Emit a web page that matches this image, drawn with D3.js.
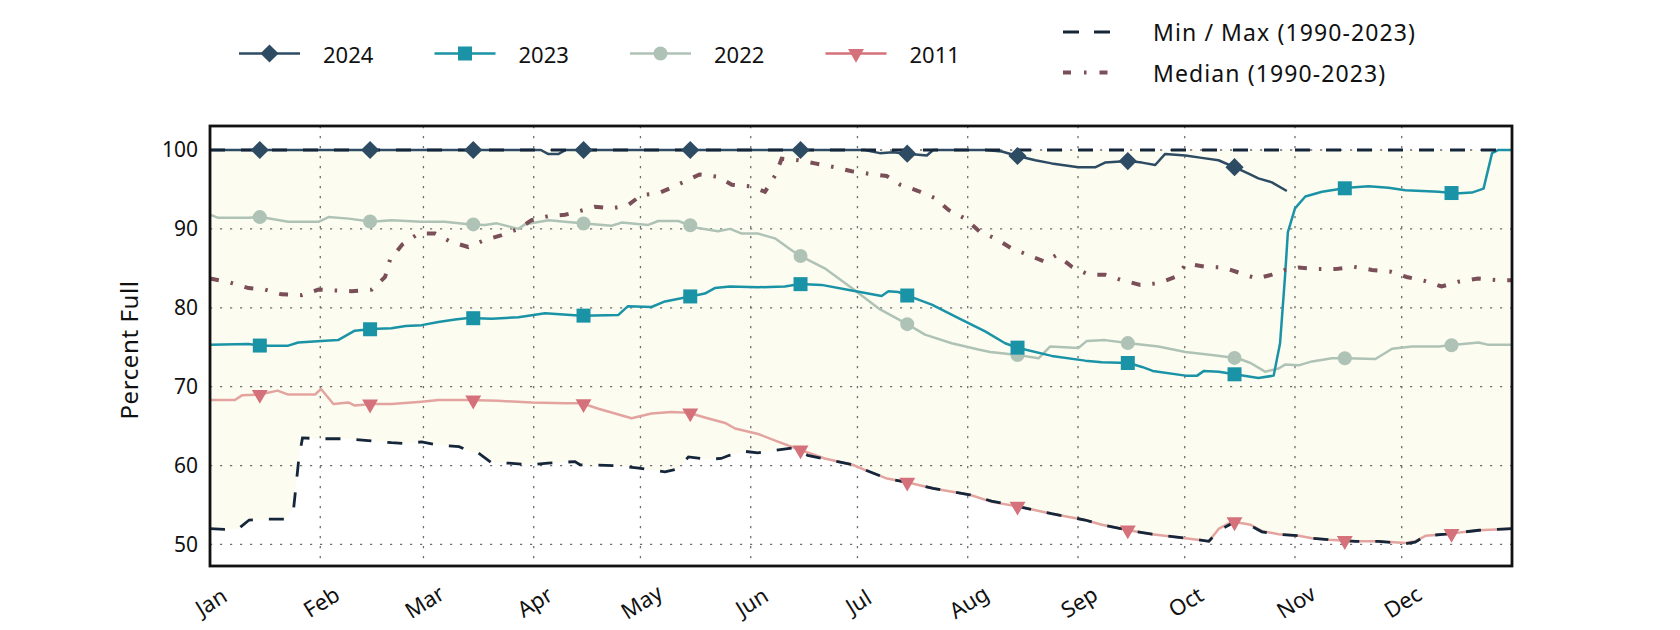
<!DOCTYPE html>
<html>
<head>
<meta charset="utf-8">
<script src="https://cdn.jsdelivr.net/npm/d3@7"></script>
<style>
  body { margin: 0; background: #fff; }
  svg { display: block; }
  text { font-family: "Noto Sans", sans-serif; fill: #111; }
</style>
</head>
<body>
<svg id="chart" width="1680" height="630"></svg>
<script>
// Reservoir percent full, by day of year (0 = Jan 1).
const maxPct = [[0, 100], [366, 100]];

const minPct = [
  [0, 52.0], [4, 51.9], [8, 52.0], [11, 53.1], [16, 53.2], [21, 53.2], [23.5, 54.5], [25, 61], [26, 63.5],
  [31, 63.4], [38, 63.4], [43.6, 63.2], [51, 62.9], [55, 62.8], [59.5, 63.0], [64, 62.6], [70, 62.4],
  [73, 61.8], [75.4, 61.6], [79, 60.4], [84, 60.3], [90.4, 60.1], [95, 60.3], [102.6, 60.5], [104, 60.1],
  [113.6, 60.0], [120, 59.7], [127.9, 59.2], [131.6, 59.6], [134.5, 61.1], [140, 60.8], [143.7, 60.9],
  [146, 61.3], [150.4, 61.8], [154, 61.6], [159.8, 62.0], [163.5, 62.2], [166, 61.8], [168, 61.3],
  [172, 60.9], [180.6, 60.1], [184.4, 59.4], [190, 58.4], [196.8, 57.8], [203.3, 57.1], [213.6, 56.3],
  [219.7, 55.5], [227.3, 54.8], [236.6, 53.9], [246, 53.1], [250.7, 52.5], [258.2, 51.8], [264.8, 51.3],
  [274.2, 50.8], [280.8, 50.4], [283.6, 51.8], [288.3, 52.9], [292.5, 52.4], [295.7, 51.6], [300.4, 51.3],
  [306, 51.1], [309.8, 50.8], [314.5, 50.6], [322, 50.4], [328.5, 50.4], [336, 50.1], [338.8, 50.3],
  [341.7, 51.1], [347.3, 51.3], [351, 51.5], [356.7, 51.8], [366, 52.0]
];

const medianPct = [
  [0, 83.7], [5.6, 83.2], [10.8, 82.5], [15.5, 82.3], [20.1, 81.7], [25.8, 81.6], [30.5, 82.3], [35.1, 82.2],
  [39.8, 82.1], [45.5, 82.3], [49.2, 83.9], [50.6, 86.1], [54, 88.0], [58.6, 89.4], [63.3, 89.4], [67.5, 88.4],
  [72.6, 87.7], [77.3, 88.6], [82, 89.2], [86.7, 90.0], [90.4, 91.1], [95, 91.6], [99.8, 91.8], [103.5, 92.2],
  [108.2, 92.8], [112.9, 92.6], [117.5, 93.0], [121.3, 94.3], [126, 94.5], [130.6, 95.4], [133.4, 96.0],
  [137.6, 96.9], [142.8, 96.6], [146.7, 95.6], [151.9, 95.4], [156, 94.7], [158.9, 96.8], [160.7, 98.9],
  [165.4, 98.7], [170, 98.3], [175.7, 97.8], [180.4, 97.3], [185, 97.0], [190.2, 96.7], [194, 95.6],
  [199.1, 94.8], [203.8, 93.9], [207.6, 92.4], [212.3, 91.3], [216.5, 89.6], [220.7, 88.8], [225.4, 87.5],
  [230, 86.7], [234.8, 85.8], [238, 86.7], [242.3, 85.2], [247, 84.2], [251.6, 84.2], [256.3, 83.5],
  [261.5, 82.9], [266.6, 83.1], [271.3, 83.9], [274.6, 85.6], [279.7, 85.2], [284.9, 85.1], [289.6, 84.4],
  [294.3, 83.7], [298.5, 84.2], [302.2, 84.8], [306, 85.1], [311.1, 84.9], [316.3, 84.9], [321.4, 85.2],
  [326.6, 84.8], [331.7, 84.6], [336.4, 83.9], [341.5, 83.4], [346.2, 82.7], [350.9, 83.3], [356.5, 83.7],
  [362.1, 83.5], [366, 83.5]
];

const pct2024 = [
  [0, 100], [93, 100], [95, 99.5], [98, 99.5], [100, 100], [184, 100], [188.3, 99.6], [192, 99.7],
  [196.8, 99.5], [201.5, 99.3], [203.3, 100], [217.9, 100], [222.6, 99.8], [227.3, 99.2], [232, 98.7],
  [236.6, 98.3], [244.1, 97.8], [248.8, 97.8], [251.6, 98.4], [258.2, 98.6], [262, 98.4], [265.7, 98.1],
  [268.5, 99.5], [274.2, 99.3], [278.8, 99.0], [283.5, 98.7], [288.6, 97.7], [292.4, 96.9], [294.7, 96.4],
  [298.5, 95.9], [302.7, 94.8]
];

const pct2023 = [
  [0, 75.3], [10.8, 75.4], [14.2, 75.2], [22, 75.2], [24.8, 75.6], [31.3, 75.8], [36, 75.9], [40.7, 77.1],
  [45.5, 77.3], [51, 77.4], [55, 77.7], [59.5, 77.8], [64.2, 78.2], [68.9, 78.5], [72.6, 78.7], [79.2, 78.6],
  [86.7, 78.8], [94.2, 79.3], [104.5, 79.0], [114.8, 79.1], [117.5, 80.2], [124.1, 80.1], [127.9, 80.8],
  [134.6, 81.4], [139.1, 81.8], [141.9, 82.5], [146.2, 82.7], [154.1, 82.6], [161.6, 82.7], [165.8, 83.0],
  [171.9, 82.9], [180.4, 82.2], [188.8, 81.5], [190.7, 82.1], [193.5, 82.0], [196.3, 81.5], [202.9, 80.4],
  [210.4, 78.7], [217.9, 77.0], [223.5, 75.5], [227.3, 74.9], [236.6, 73.9], [246, 73.3], [250.7, 73.1],
  [258.2, 73.0], [262, 72.5], [265, 72.0], [274.2, 71.4], [277.5, 71.4], [279.4, 72.0], [283.6, 71.9],
  [288.9, 71.5], [294.7, 71.1], [299, 71.4], [300.8, 75.5], [302.2, 84.0], [303, 89.6], [305, 92.6],
  [307.9, 94.1], [312.6, 94.7], [319.8, 95.2], [325.7, 95.4], [331.3, 95.2], [336, 94.9], [345.4, 94.7],
  [350, 94.5], [354.7, 94.6], [358, 95.1], [360.4, 99.6], [362.2, 100], [366, 100]
];

const pct2022 = [
  [0, 91.8], [2.3, 91.4], [10.8, 91.4], [14.2, 91.5], [22, 90.9], [30.5, 90.9], [33.3, 91.5], [39, 91.3],
  [45.5, 90.9], [51, 91.1], [59.5, 90.9], [66, 90.9], [72.6, 90.6], [77.3, 90.5], [80.6, 90.7], [86.7, 90.0],
  [88.6, 90.6], [95.2, 91.1], [104.5, 90.7], [112.9, 90.4], [115.7, 90.8], [123.2, 90.5], [126, 91.0],
  [131.6, 91.0], [137.2, 90.1], [142.8, 89.7], [146.2, 90.0], [149.5, 89.4], [154.1, 89.4], [158.8, 88.8],
  [163.5, 87.3], [165.8, 86.6], [172.8, 85.0], [180.4, 82.5], [188, 79.9], [196.1, 77.9], [201, 76.6],
  [208.5, 75.5], [216, 74.7], [219.3, 74.4], [227.3, 74.0], [232.9, 73.6], [236.2, 75.1], [244.1, 74.9],
  [246.5, 75.8], [251.6, 75.9], [258.4, 75.5], [266.6, 75.1], [274.2, 74.4], [281.6, 74.0], [288.9, 73.6],
  [292.5, 73.0], [296.6, 71.9], [300.4, 72.3], [302.2, 72.8], [306, 72.7], [309.8, 73.2], [315.4, 73.6],
  [319.8, 73.6], [327.6, 73.5], [332.3, 74.8], [337.9, 75.1], [345.4, 75.1], [350, 75.3], [356.6, 75.6],
  [359.4, 75.3], [366, 75.3]
];

const pct2011 = [
  [0, 68.3], [7, 68.3], [9, 68.9], [14, 69.0], [19, 69.5], [22, 69.0], [29.5, 69.0], [31.2, 69.7],
  [34.7, 67.8], [38.9, 68.0], [40.7, 67.6], [45.5, 67.8], [51, 67.8], [59.5, 68.1], [64.2, 68.3],
  [72.6, 68.3], [81, 68.2], [90.4, 68.0], [99.8, 67.9], [104.5, 67.9], [109.2, 67.2], [118.5, 66.0],
  [124.1, 66.6], [129.7, 66.8], [134.6, 66.7], [139.1, 66.1], [144.8, 65.4], [147.6, 64.7], [154.1, 64.0],
  [159.8, 63.0], [165.8, 62.0], [172.8, 60.9], [180.6, 60.1], [184.4, 59.4], [190, 58.4], [196.8, 57.8],
  [203.3, 57.1], [213.6, 56.3], [219.7, 55.4], [227.3, 54.8], [236.6, 53.9], [246, 53.1], [250.7, 52.5],
  [258.2, 51.8], [264.8, 51.3], [274.2, 50.8], [280.8, 50.4], [283.6, 52.0], [287.4, 52.9], [292.5, 52.5],
  [295.7, 51.7], [300.4, 51.3], [306, 51.1], [309.8, 50.8], [314.5, 50.6], [322, 50.4], [328.5, 50.4],
  [336, 50.2], [338.8, 50.4], [341.7, 51.1], [347.3, 51.3], [351, 51.5], [356.7, 51.8], [366, 52.0]
];

const yTicks = [50, 60, 70, 80, 90, 100];

const years = [
  { label: "2024", data: pct2024, line: "#2d4b63", mark: "#2d4b63", symbol: "diamond" },
  { label: "2023", data: pct2023, line: "#1a93a6", mark: "#1a93a6", symbol: "square" },
  { label: "2022", data: pct2022, line: "#afc2b6", mark: "#afc2b6", symbol: "circle" },
  { label: "2011", data: pct2011, line: "#e3a49f", mark: "#d4717a", symbol: "triangle" }
];

const svg = d3.select("#chart");
const plotL = 210, plotR = 1512, plotT = 126, plotB = 566;
const t0 = Date.UTC(2024, 0, 1), t1 = Date.UTC(2025, 0, 1);
const DAY = 864e5;

const x = d3.scaleUtc().domain([t0, t1]).range([plotL, plotR]);
const y = d3.scaleLinear().domain([47.27, 103.04]).range([plotB, plotT]);
const xd = d => x(t0 + d * DAY);

// value of a series at a fractional day, for placing markers on the 15th
function valueAt(series, d) {
  const i = d3.bisector(p => p[0]).left(series, d);
  if (i <= 0) return series[0][1];
  if (i >= series.length) return null;
  const [d0, v0] = series[i - 1], [d1, v1] = series[i];
  return v0 + (v1 - v0) * (d - d0) / (d1 - d0);
}

const line = d3.line().x(p => xd(p[0])).y(p => y(p[1]));

// band between min and max
svg.append("path")
  .datum(minPct)
  .attr("fill", "#fcfcf1")
  .attr("d", d3.area()
    .x(p => xd(p[0]))
    .y0(p => y(p[1]))
    .y1(p => y(valueAt(maxPct, p[0]))));

// grid
const months = d3.utcMonth.range(new Date(t0), new Date(t1));
const grid = svg.append("g").attr("stroke", "#6e6e6e").attr("stroke-width", 1.3)
  .attr("stroke-dasharray", "2.2,7.8").attr("fill", "none");
grid.selectAll("line.v").data(months.slice(1)).join("line")
  .attr("x1", d => x(d)).attr("x2", d => x(d)).attr("y1", plotT).attr("y2", plotB);
grid.selectAll("line.h").data(yTicks).join("line")
  .attr("x1", plotL).attr("x2", plotR).attr("y1", d => y(d)).attr("y2", d => y(d));

// yearly lines
years.slice().reverse().forEach(s => {
  svg.append("path").datum(s.data)
    .attr("fill", "none").attr("stroke", s.line).attr("stroke-width", 2.5)
    .attr("stroke-linejoin", "round").attr("d", line);
});

// median
svg.append("path").datum(medianPct)
  .attr("fill", "none").attr("stroke", "#7a4f58").attr("stroke-width", 4)
  .attr("stroke-dasharray", "9,12,2.5,12").attr("d", line);

// min / max
[minPct, maxPct].forEach(s => {
  svg.append("path").datum(s)
    .attr("fill", "none").attr("stroke", "#15263a").attr("stroke-width", 2.8)
    .attr("stroke-dasharray", "15,16").attr("d", line);
});

// markers
const symbols = {
  diamond: { type: d3.symbolSquare, size: 165, rotate: 45 },
  square: { type: d3.symbolSquare, size: 196, rotate: 0 },
  circle: { type: d3.symbolCircle, size: 154, rotate: 0 },
  triangle: { type: d3.symbolTriangle, size: 110, rotate: 180 }
};
const markDays = months.map(m => (d3.utcDay.offset(m, 14) - t0) / DAY);
function drawMark(g, s, cx, cy) {
  const sym = symbols[s.symbol];
  g.append("path")
    .attr("d", d3.symbol(sym.type, sym.size)())
    .attr("fill", s.mark)
    .attr("transform", `translate(${cx},${cy}) rotate(${sym.rotate})`);
}
const markG = svg.append("g");
years.slice().reverse().forEach(s => {
  const lastDay = s.data[s.data.length - 1][0];
  markDays.filter(d => d <= lastDay).forEach(d => drawMark(markG, s, xd(d), y(valueAt(s.data, d))));
});

// frame
svg.append("rect")
  .attr("x", plotL).attr("y", plotT).attr("width", plotR - plotL).attr("height", plotB - plotT)
  .attr("fill", "none").attr("stroke", "#111").attr("stroke-width", 2.8);

// axes
const yAxis = svg.append("g").attr("transform", `translate(${plotL},0)`)
  .call(d3.axisLeft(y).tickValues(yTicks).tickSize(0).tickPadding(12));
yAxis.select(".domain").remove();
yAxis.selectAll("text").style("font-size", "21px").attr("fill", "#111");

const xAxis = svg.append("g").attr("transform", `translate(0,${plotB})`)
  .call(d3.axisBottom(x).tickValues(months).tickFormat(d3.utcFormat("%b")).tickSize(0));
xAxis.select(".domain").remove();
xAxis.selectAll("text")
  .style("font-size", "22px").attr("fill", "#111")
  .attr("text-anchor", "middle").attr("dy", null).attr("y", 0)
  .attr("dominant-baseline", "central")
  .attr("transform", "translate(0,35) rotate(-32)");

svg.append("text")
  .attr("transform", `translate(128,${(plotT + plotB) / 2 + 4}) rotate(-90)`)
  .attr("text-anchor", "middle").attr("dominant-baseline", "central")
  .style("font-size", "24px").style("letter-spacing", "0.6px").text("Percent Full");

// legend: years
years.forEach((s, i) => {
  const x0 = 239 + i * 195.5, ly = 53.5;
  const g = svg.append("g");
  g.append("line").attr("x1", x0).attr("x2", x0 + 61).attr("y1", ly).attr("y2", ly)
    .attr("stroke", s.mark).attr("stroke-width", 2.4);
  drawMark(g, s, x0 + 30.5, ly);
  g.append("text").attr("x", x0 + 84).attr("y", ly).attr("dominant-baseline", "central")
    .style("font-size", "22px").text(s.label);
});

// legend: reference lines
const refLegend = [
  { label: "Min / Max (1990-2023)", stroke: "#15263a", width: 2.8, dash: "16,15", y: 32 },
  { label: "Median (1990-2023)", stroke: "#7a4f58", width: 4, dash: "8,13,2.5,13", y: 72.5 }
];
refLegend.forEach(r => {
  svg.append("line").attr("x1", 1063).attr("x2", 1110).attr("y1", r.y).attr("y2", r.y)
    .attr("stroke", r.stroke).attr("stroke-width", r.width).attr("stroke-dasharray", r.dash);
  svg.append("text").attr("x", 1153).attr("y", r.y).attr("dominant-baseline", "central")
    .style("font-size", "23px").style("letter-spacing", "1.1px").text(r.label);
});
</script>
</body>
</html>
